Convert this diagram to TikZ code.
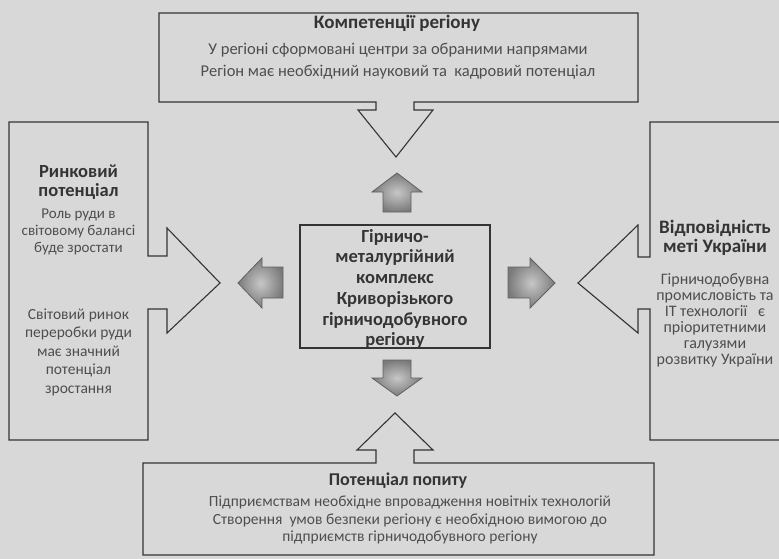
\documentclass[tikz,border=0pt]{standalone}
\usepackage{fontspec}
\setmainfont{Carlito}
\begin{document}
\begin{tikzpicture}[x=1pt,y=-1pt,line join=miter]
\definecolor{bg}{RGB}{216,216,216}
\definecolor{ink}{RGB}{52,52,52}
\definecolor{softink}{RGB}{78,78,78}
\tikzset{
  callout/.style={draw=ink,line width=1.1pt},
  smallarrow/.style={draw=black!62,line width=0.8pt,inner color=black!22,outer color=black!52},
  ttl/.style={font=\bfseries\fontsize{19}{19.5}\selectfont,text=ink,align=center,inner sep=0pt},
  bodytxt/.style={font=\fontsize{16}{17}\selectfont,text=softink,align=center,inner sep=0pt},
  centretxt/.style={font=\bfseries\fontsize{18.5}{20.7}\selectfont,text=ink,align=center,inner sep=0pt}
}
\useasboundingbox (0,0) rectangle (779,559);
\clip (0,0) rectangle (779,559);
\fill[bg] (0,0) rectangle (779,559);

% top callout
\draw[callout] (159,13) -- (638,13) -- (638,102) -- (414,102) -- (414,110) -- (433,110)
  -- (396,157) -- (358,110) -- (376,110) -- (376,102) -- (159,102) -- cycle;
% left callout
\draw[callout] (9,122) -- (148,122) -- (148,256) -- (167,256) -- (167,228) -- (220,283)
  -- (167,333) -- (167,309) -- (148,309) -- (148,440) -- (9,440) -- cycle;
% right callout
\draw[callout] (785,122) -- (650,122) -- (650,257) -- (638,257) -- (638,225) -- (578,283)
  -- (638,333) -- (638,309) -- (650,309) -- (650,440) -- (785,440) -- cycle;
% bottom callout
\draw[callout] (143,555) -- (654,555) -- (654,463) -- (414,463) -- (414,450) -- (433,450)
  -- (395,413) -- (357,450) -- (376,450) -- (376,463) -- (143,463) -- cycle;

% centre box
\node[draw=ink,line width=1.1pt,minimum width=190pt,minimum height=123pt,inner sep=0pt] (centre) at (395,286.5) {};
\node[centretxt] (centretext) at (395,289) {Гірничо-\\металургійний\\комплекс\\Криворізького\\гірничодобувного\\регіону};

% small arrows
\path[smallarrow] (383,212) -- (383,192) -- (372,192) -- (397,173) -- (422,192) -- (411,192) -- (411,212) -- cycle;
\path[smallarrow] (383,360) -- (383,378) -- (372,378) -- (397,396) -- (422,378) -- (411,378) -- (411,360) -- cycle;
\path[smallarrow] (283,267) -- (262,267) -- (262,258) -- (238,283) -- (262,308) -- (262,298) -- (283,298) -- cycle;
\path[smallarrow] (508,267) -- (530,267) -- (530,258) -- (555,283) -- (530,308) -- (530,298) -- (508,298) -- cycle;

% top texts
\node[ttl] (ktitle) at (397,23) {Компетенції регіону};
\node[bodytxt,font=\fontsize{16.5}{17}\selectfont] (kline1) at (398,50) {У регіоні сформовані центри за обраними напрямами};
\node[bodytxt,font=\fontsize{16.5}{17}\selectfont] (kline2) at (398,72) {Регіон має необхідний науковий та\ \ кадровий потенціал};

% left texts
\node[ttl,font=\bfseries\fontsize{18.5}{18.5}\selectfont] (rtitle) at (78.5,182) {Ринковий\\потенціал};
\node[bodytxt,font=\fontsize{15}{17}\selectfont] (rbody1) at (78.5,232) {Роль руди в\\світовому балансі\\буде зростати};
\node[bodytxt,font=\fontsize{15.5}{18.5}\selectfont] (rbody2) at (78.5,352) {Світовий ринок\\переробки руди\\має значний\\потенціал\\зростання};

% right texts
\node[ttl] (vtitle) at (715,238) {Відповідність\\меті України};
\node[bodytxt,font=\fontsize{16}{16}\selectfont] (vbody) at (715,320) {Гірничодобувна\\промисловість та\\IT технології\ \ \ є\\пріоритетними\\галузями\\розвитку України};

% bottom texts
\node[ttl,font=\bfseries\fontsize{18}{19}\selectfont] (ptitle) at (398,481) {Потенціал попиту};
\node[bodytxt,font=\fontsize{15.5}{17.5}\selectfont] (pbody) at (410,520) {Підприємствам необхідне впровадження новітніх технологій\\Створення\ \ умов безпеки регіону є необхідною вимогою до\\підприємств гірничодобувного регіону};
\end{tikzpicture}
\end{document}
